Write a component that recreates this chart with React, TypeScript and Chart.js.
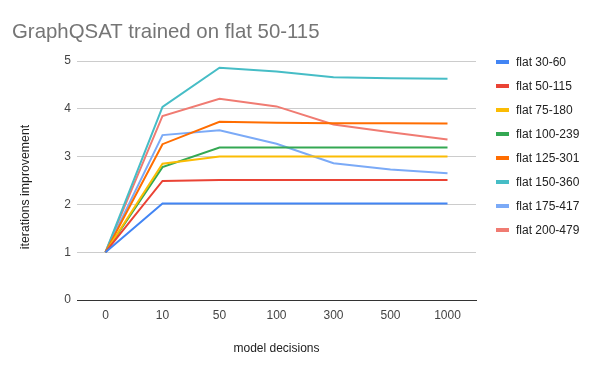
import React, { useEffect, useRef } from "react";
import { Chart, registerables } from "chart.js";

Chart.register(...registerables);

const categories = ["0", "10", "50", "100", "300", "500", "1000"];
const seriesNames = [
  "flat 30-60",
  "flat 50-115",
  "flat 75-180",
  "flat 100-239",
  "flat 125-301",
  "flat 150-360",
  "flat 175-417",
  "flat 200-479",
];
const flat30_60 = [1, 2.02, 2.02, 2.02, 2.02, 2.02, 2.02];
const flat50_115 = [1, 2.49, 2.51, 2.51, 2.51, 2.51, 2.51];
const flat75_180 = [1, 2.85, 3.0, 3.0, 3.0, 3.0, 3.0];
const flat100_239 = [1, 2.78, 3.19, 3.19, 3.19, 3.19, 3.19];
const flat125_301 = [1, 3.26, 3.73, 3.71, 3.7, 3.7, 3.69];
const flat150_360 = [1, 4.04, 4.86, 4.78, 4.66, 4.64, 4.63];
const flat175_417 = [1, 3.45, 3.55, 3.27, 2.86, 2.73, 2.65];
const flat200_479 = [1, 3.85, 4.21, 4.05, 3.67, 3.51, 3.36];
const seriesValues = [
  flat30_60,
  flat50_115,
  flat75_180,
  flat100_239,
  flat125_301,
  flat150_360,
  flat175_417,
  flat200_479,
];
const colors = [
  "#4285F4",
  "#EA4335",
  "#FBBC04",
  "#34A853",
  "#FF6D01",
  "#46BDC6",
  "#7BAAF7",
  "#F07B72",
];
const yTicks = [0, 1, 2, 3, 4, 5];
const chartTitle = "GraphQSAT trained on flat 50-115";
const xTitle = "model decisions";
const yTitle = "iterations improvement";

const FONT = "Arial, 'Liberation Sans', sans-serif";

const titleLegendPlugin = {
  id: "titleLegend",
  afterDraw(chart: any) {
    const ctx = chart.ctx;
    ctx.save();
    ctx.font = `20.4px ${FONT}`;
    ctx.fillStyle = "#757575";
    ctx.textAlign = "left";
    ctx.textBaseline = "alphabetic";
    ctx.fillText(chartTitle, 12, 38);

    // y axis title
    ctx.save();
    ctx.translate(26, 187);
    ctx.rotate(-Math.PI / 2);
    ctx.font = `12.3px ${FONT}`;
    ctx.fillStyle = "#222";
    ctx.textAlign = "center";
    ctx.textBaseline = "middle";
    ctx.fillText(yTitle, 0, 0);
    ctx.restore();

    ctx.font = `12px ${FONT}`;
    ctx.textAlign = "left";
    ctx.textBaseline = "middle";
    chart.data.datasets.forEach((ds: any, i: number) => {
      const y = 62 + i * 24.04;
      ctx.fillStyle = ds.borderColor;
      ctx.fillRect(496, Math.round(y) - 2, 13, 4);
      ctx.fillStyle = "#222";
      ctx.fillText(ds.label, 516, y + 0.5);
    });
    ctx.restore();
  },
};

export default function App() {
  const ref = useRef<HTMLCanvasElement | null>(null);
  useEffect(() => {
    document.body.style.margin = "0";
    const canvas = ref.current;
    if (!canvas) return;
    const chart = new Chart(canvas, {
      type: "line",
      data: {
        labels: categories,
        datasets: seriesValues.map((vals, i) => ({
          label: seriesNames[i],
          data: vals,
          borderColor: colors[i],
          backgroundColor: colors[i],
          borderWidth: 2,
          pointRadius: 0,
          tension: 0,
          fill: false,
        })),
      },
      options: {
        animation: false,
        responsive: false,
        devicePixelRatio: 1,
        layout: { padding: { top: 61, left: 0, right: 124, bottom: 0 } },
        plugins: {
          legend: { display: false },
          title: { display: false },
          tooltip: { enabled: false },
        },
        scales: {
          x: {
            type: "category",
            offset: true,
            grid: { display: false, drawTicks: false },
            border: { display: true, color: "#333", width: 1 },
            ticks: { color: "#444", font: { size: 12, family: FONT }, padding: 8, maxRotation: 0 },
            title: {
              display: true,
              text: xTitle,
              color: "#222",
              font: { size: 12, family: FONT },
              padding: { top: 0, bottom: 15 },
            },
            afterFit(scale: any) {
              scale.height = 71;
            },
          },
          y: {
            min: 0,
            max: 5,
            afterBuildTicks(scale: any) {
              scale.ticks = yTicks.map((v) => ({ value: v }));
            },
            grid: { color: "#cccccc", drawTicks: false, lineWidth: 1 },
            border: { display: false },
            ticks: { color: "#444", font: { size: 12, family: FONT }, padding: 6 },
            title: { display: false },
            afterFit(scale: any) {
              scale.width = 77;
            },
          },
        },
      },
      plugins: [titleLegendPlugin],
    });
    return () => chart.destroy();
  }, []);
  return (
    <div style={{ width: 600, height: 371 }}>
      <canvas ref={ref} width={600} height={371} style={{ display: "block" }} />
    </div>
  );
}
